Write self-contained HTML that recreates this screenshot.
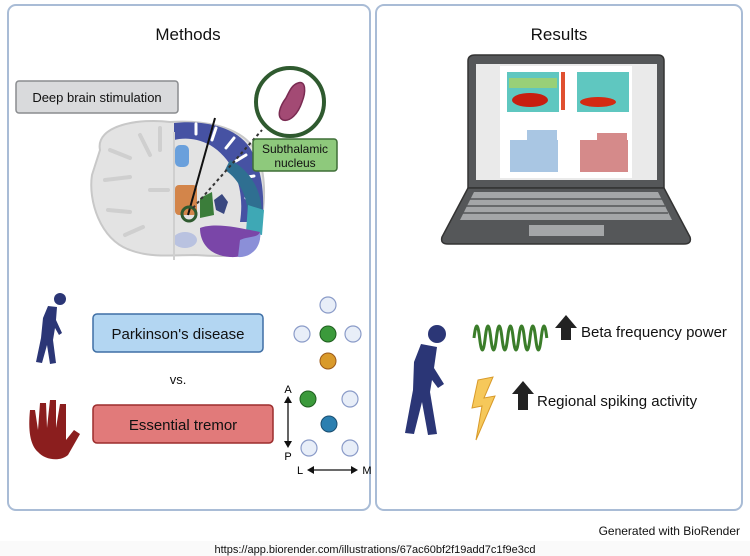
<!DOCTYPE html>
<html><head><meta charset="utf-8"><style>
html,body{margin:0;padding:0;background:#fff;}
svg{display:block;font-family:"Liberation Sans",sans-serif;}
</style></head><body>
<svg width="750" height="556" viewBox="0 0 750 556" xmlns="http://www.w3.org/2000/svg">
<rect x="0" y="0" width="750" height="556" fill="#fff"/>
<rect x="8" y="5" width="362" height="505" rx="8" fill="#fff" stroke="#a9bcd6" stroke-width="2"/>
<rect x="376" y="5" width="366" height="505" rx="8" fill="#fff" stroke="#a9bcd6" stroke-width="2"/>
<text x="188" y="40" font-size="17" text-anchor="middle" fill="#111">Methods</text>
<text x="559" y="40" font-size="17" text-anchor="middle" fill="#111">Results</text>

<rect x="16" y="81" width="162" height="32" rx="3" fill="#d9dadc" stroke="#8a8c8f" stroke-width="1.5"/>
<text x="97" y="102" font-size="13" text-anchor="middle" fill="#111">Deep brain stimulation</text>

<!-- brain -->
<path d="M100,150 C95,125 140,118 170,122 C200,120 240,125 255,150 C270,175 265,230 250,250 C240,258 210,256 195,255 C175,255 150,258 130,250 C100,240 88,200 92,175 Z" fill="#e3e3e3" stroke="#c8c8c8" stroke-width="2"/>
<g fill="none" stroke="#cfcfcf" stroke-width="4" stroke-linecap="round">
<path d="M110,150 l20,8 M105,180 l25,-3 M108,210 l22,2 M125,235 l18,-8 M140,135 l10,20 M160,128 l0,22 M150,190 l18,0"/>
</g>
<path d="M174,123 C200,120 235,125 250,148 C263,170 265,200 262,222 L240,222 C245,190 235,160 210,145 C195,137 182,138 174,140 Z" fill="#4652a3"/>
<g fill="none" stroke="#fff" stroke-width="3" stroke-linecap="round">
<path d="M196,124 l0,10 M216,128 l-4,12 M234,138 l-8,10 M246,155 l-10,6 M254,176 l-12,2 M258,198 l-12,0"/>
</g>
<path d="M230,160 C250,170 262,190 262,215 L248,218 C248,198 240,180 225,170 Z" fill="#2f6f91"/>
<path d="M248,205 L264,210 L262,235 L246,232 Z" fill="#3ea8b5"/>
<path d="M200,228 C215,222 240,228 260,232 C262,248 248,258 230,257 C212,256 200,245 200,228 Z" fill="#7a46a8"/>
<path d="M240,240 C248,236 258,238 260,232 C262,248 250,258 238,257 Z" fill="#8b8fd8"/>
<path d="M214,200 l8,-6 l6,8 l-4,12 l-8,-4 Z" fill="#3a4880"/>
<rect x="175" y="145" width="14" height="22" rx="5" fill="#6aa0dc"/>
<rect x="175" y="185" width="22" height="30" rx="4" fill="#d3854a"/>
<path d="M200,198 L212,192 L214,215 L200,218 Z" fill="#3b7d3a"/>
<ellipse cx="185" cy="240" rx="12" ry="8" fill="#b9c2e0"/>
<line x1="174" y1="132" x2="174" y2="260" stroke="#cfcfcf" stroke-width="2"/>
<line x1="215" y1="118" x2="188" y2="215" stroke="#111" stroke-width="2"/>
<circle cx="189" cy="214" r="7" fill="none" stroke="#2f5a2f" stroke-width="3"/>
<line x1="193" y1="208" x2="262" y2="130" stroke="#333" stroke-width="2" stroke-dasharray="3,3"/>
<circle cx="290" cy="102" r="34" fill="#fff" stroke="#2f5a2f" stroke-width="4"/>
<path d="M298,83 C306,80 306,92 302,102 C298,114 290,122 283,120 C276,117 280,106 286,98 C290,90 292,85 298,83 Z" fill="#a34a74" stroke="#7a2b52" stroke-width="1.5"/>
<rect x="253" y="139" width="84" height="32" rx="3" fill="#8ec97c" stroke="#3e6e37" stroke-width="1.5"/>
<text x="295" y="153" font-size="12" text-anchor="middle" fill="#111">Subthalamic</text>
<text x="295" y="167" font-size="12" text-anchor="middle" fill="#111">nucleus</text>

<!-- PD figure small -->
<g fill="#2b3676">
<circle cx="60" cy="299" r="6"/>
<path d="M48,306 L57,307 L56,320 L62,333 L59,335 L55,328 L53,340 L56,363 L50,364 L47,345 L42,363 L36,362 L41,338 L43,318 Z"/>
</g>
<rect x="93" y="314" width="170" height="38" rx="4" fill="#b3d6f2" stroke="#3f6fa5" stroke-width="1.5"/>
<text x="178" y="339" font-size="15" text-anchor="middle" fill="#111">Parkinson's disease</text>
<text x="178" y="384" font-size="13" text-anchor="middle" fill="#111">vs.</text>
<path d="M38,452 C30,445 28,430 30,410 L35,410 L38,430 L40,403 L46,403 L47,428 L50,400 L56,400 L56,428 L60,404 L66,404 L66,440 L74,430 L80,434 L68,455 C60,462 45,460 38,452 Z" fill="#8b1e1e"/>
<rect x="93" y="405" width="180" height="38" rx="4" fill="#e17a7a" stroke="#9c2d2d" stroke-width="1.5"/>
<text x="183" y="430" font-size="15" text-anchor="middle" fill="#111">Essential tremor</text>

<g stroke="#8a9bc8" stroke-width="1.2" fill="#e8eef8">
<circle cx="328" cy="305" r="8"/><circle cx="302" cy="334" r="8"/><circle cx="353" cy="334" r="8"/>
<circle cx="350" cy="399" r="8"/><circle cx="309" cy="448" r="8"/><circle cx="350" cy="448" r="8"/>
</g>
<circle cx="328" cy="334" r="8" fill="#3b9a3b" stroke="#1f5e1f"/>
<circle cx="328" cy="361" r="8" fill="#d99a2b" stroke="#9c5a1a"/>
<circle cx="308" cy="399" r="8" fill="#3b9a3b" stroke="#1f5e1f"/>
<circle cx="329" cy="424" r="8" fill="#2b7fb0" stroke="#1a4e70"/>
<text x="288" y="393" font-size="11" text-anchor="middle">A</text>
<text x="288" y="460" font-size="11" text-anchor="middle">P</text>
<line x1="288" y1="398" x2="288" y2="446" stroke="#111" stroke-width="1.3"/>
<path d="M284,403 L288,396 L292,403 Z M284,441 L288,448 L292,441 Z" fill="#111"/>
<text x="300" y="474" font-size="11" text-anchor="middle">L</text>
<text x="367" y="474" font-size="11" text-anchor="middle">M</text>
<line x1="310" y1="470" x2="355" y2="470" stroke="#111" stroke-width="1.3"/>
<path d="M314,466 L307,470 L314,474 Z M351,466 L358,470 L351,474 Z" fill="#111"/>

<!-- laptop -->
<path d="M475,55 L658,55 Q664,55 664,61 L664,188 L468,188 L468,61 Q468,55 475,55 Z" fill="#555759" stroke="#333" stroke-width="1.5"/>
<rect x="476" y="64" width="181" height="116" fill="#eaeaea"/>
<rect x="500" y="66" width="132" height="112" fill="#fff"/>
<rect x="507" y="72" width="52" height="40" fill="#5fc7c0"/>
<ellipse cx="530" cy="100" rx="18" ry="7" fill="#c81e10"/>
<rect x="509" y="78" width="48" height="10" fill="#b0d45a" opacity="0.7"/>
<rect x="577" y="72" width="52" height="40" fill="#5fc7c0"/>
<ellipse cx="598" cy="102" rx="18" ry="5" fill="#d42a12"/>
<rect x="561" y="72" width="4" height="38" fill="#e05030"/>
<rect x="510" y="140" width="48" height="32" fill="#a9c6e3"/>
<rect x="527" y="130" width="30" height="10" fill="#a9c6e3"/>
<rect x="580" y="140" width="48" height="32" fill="#d58a8a"/>
<rect x="597" y="133" width="30" height="7" fill="#d58a8a"/>
<path d="M468,188 L664,188 L690,237 Q692,244 684,244 L448,244 Q440,244 442,237 Z" fill="#555759" stroke="#333" stroke-width="1.5"/>
<path d="M474,192 L658,192 L672,220 L460,220 Z" fill="#a4a6a8"/>
<g stroke="#555759" stroke-width="1.5">
<line x1="470" y1="199" x2="662" y2="199"/><line x1="466" y1="206" x2="665" y2="206"/><line x1="463" y1="213" x2="668" y2="213"/>
</g>
<rect x="529" y="225" width="75" height="11" fill="#a4a6a8"/>

<!-- right figure -->
<g fill="#2b3676">
<circle cx="437" cy="334" r="9"/>
<path d="M421,344 L437,347 L434,368 L444,384 L438,388 L432,380 L430,392 L437,434 L428,435 L422,402 L414,434 L405,433 L413,390 L414,362 Z"/>
</g>
<path d="M474,338 q2.8,-24 5.6,0 t5.6,0 t5.6,0 t5.6,0 t5.6,0 t5.6,0 t5.6,0 t5.6,0 t5.6,0 t5.6,0 t5.6,0 t5.6,0 t5.6,0" fill="none" stroke="#3b7d2a" stroke-width="3"/>
<path d="M566,315 L555,328 L561,328 L561,340 L571,340 L571,328 L577,328 Z" fill="#222"/>
<text x="581" y="337" font-size="15" fill="#111">Beta frequency power</text>
<path d="M478,380 L493,377 L484,398 L495,396 L476,440 L482,406 L472,408 Z" fill="#f6c85a" stroke="#d89a2a" stroke-width="1"/>
<path d="M523,381 L512,394 L518,394 L518,410 L528,410 L528,394 L534,394 Z" fill="#222"/>
<text x="537" y="406" font-size="15" fill="#111">Regional spiking activity</text>

<text x="740" y="535" font-size="12" text-anchor="end" fill="#111">Generated with BioRender</text>
<rect x="0" y="541" width="750" height="15" fill="#fafafa"/>
<text x="375" y="553" font-size="11" text-anchor="middle" fill="#111">https://app.biorender.com/illustrations/67ac60bf2f19add7c1f9e3cd</text>
</svg>
</body></html>
